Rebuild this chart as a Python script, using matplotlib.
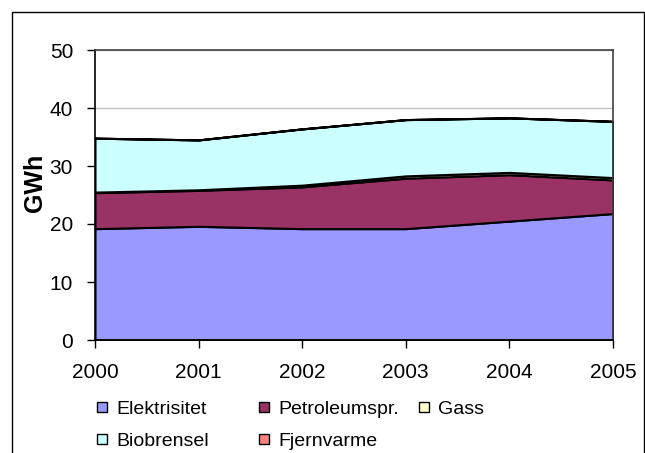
import matplotlib
matplotlib.use("Agg")
import matplotlib.pyplot as plt
from matplotlib.patches import Rectangle

plt.rcParams["font.family"] = ["Liberation Sans", "DejaVu Sans"]

# data (GWh)
years = [2000, 2001, 2002, 2003, 2004, 2005]
elektrisitet = [19.2, 19.6, 19.2, 19.2, 20.5, 21.8]
petroleum = [6.2, 6.2, 7.2, 8.7, 8.0, 5.8]
gass = [0.1, 0.1, 0.3, 0.4, 0.4, 0.4]
biobrensel = [9.3, 8.6, 9.7, 9.7, 9.4, 9.7]
fjernvarme = [0.0, 0.0, 0.0, 0.0, 0.0, 0.0]

labels = ["Elektrisitet", "Petroleumspr.", "Gass", "Biobrensel", "Fjernvarme"]
colors = ["#9999FF", "#993366", "#FFFFCC", "#CCFFFF", "#FF8080"]
yticks = [0, 10, 20, 30, 40, 50]

W, H = 645, 453
fig = plt.figure(figsize=(W / 100, H / 100), dpi=100)
ax = fig.add_axes([95 / W, 1 - 340 / H, (613 - 95) / W, (340 - 50) / H])

ax.stackplot(years, elektrisitet, petroleum, gass, biobrensel, fjernvarme,
             colors=colors, edgecolor="black", linewidth=1.5, zorder=2)

ax.set_xlim(2000, 2005)
ax.set_ylim(0, 50)
ax.set_xticks(years)
ax.set_yticks(yticks)
ax.yaxis.grid(True, color="#C0C0C0", linewidth=1, zorder=0)
ax.set_axisbelow(True)
ax.tick_params(axis="both", direction="out", length=5.8, width=1, labelsize=15, colors="black")
ax.tick_params(axis="x", pad=11)
ax.tick_params(axis="y", pad=10)
for s in ax.spines.values():
    s.set_linewidth(1.2)
ax.spines["top"].set_color("#404040")
ax.spines["right"].set_color("#404040")

fig.text(35 / W, 1 - 183 / H, "GWh", rotation=90, ha="center", va="center",
         fontsize=18, fontweight="bold")

# legend drawn by hand, row by row as in the original
legend_pos = [(97, 407), (259, 407), (419, 407), (97, 439), (259, 439)]
for (px, py), lab, col in zip(legend_pos, labels, colors):
    fig.patches.append(Rectangle((px / W, 1 - (py + 5) / H), 10 / W, 10 / H,
                                 transform=fig.transFigure, facecolor=col,
                                 edgecolor="black", linewidth=1))
    fig.text((px + 19) / W, 1 - py / H, lab, ha="left", va="center_baseline", fontsize=14)

# outer chart frame
fig.patches.append(Rectangle((12 / W, -0.05), (644 - 12) / W, 1.05 - 12 / H,
                             transform=fig.transFigure, fill=False,
                             edgecolor="black", linewidth=1))

fig.savefig("out.png", dpi=100)
